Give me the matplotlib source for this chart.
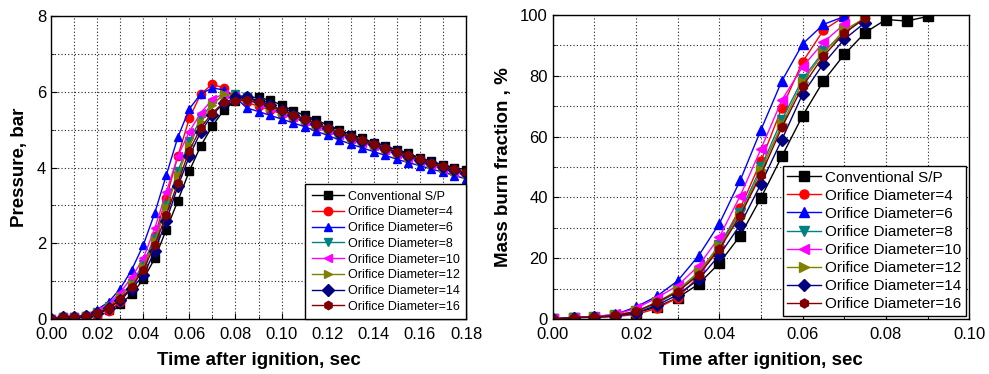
import matplotlib
matplotlib.use("Agg")
import matplotlib.pyplot as plt
from matplotlib.ticker import MultipleLocator

plt.rcParams["font.family"] = ["Liberation Sans", "DejaVu Sans"]

LABELS = ["Conventional S/P", "Orifice Diameter=4", "Orifice Diameter=6",
          "Orifice Diameter=8", "Orifice Diameter=10", "Orifice Diameter=12",
          "Orifice Diameter=14", "Orifice Diameter=16"]
COLORS = ["#000000", "#ff0000", "#0000ff", "#008080", "#ff00ff", "#808000",
          "#000080", "#800000"]
MARKERS = ["s", "o", "^", "v", "<", ">", "D", "h"]

# ---- pressure (left), t = 0 .. 0.18 step 0.005
t_p = [round(0.005 * i, 3) for i in range(37)]
p_conv = [0.0, 0.05, 0.05, 0.08, 0.15, 0.25, 0.4, 0.65, 1.05, 1.6, 2.36, 3.12, 3.91,
          4.58, 5.1, 5.52, 5.76, 5.85, 5.85, 5.78, 5.65, 5.5, 5.38, 5.26, 5.12, 5.0,
          4.87, 4.77, 4.66, 4.56, 4.47, 4.38, 4.25, 4.16, 4.07, 4.0, 3.94]
p_d4 = [0.0, 0.05, 0.05, 0.07, 0.05, 0.2, 0.45, 0.85, 1.4, 2.2, 3.2, 4.3, 5.3,
        5.95, 6.2, 6.1, 5.85, 5.72, 5.62, 5.52, 5.42, 5.32, 5.2, 5.08, 4.97, 4.86,
        4.76, 4.66, 4.56, 4.46, 4.36, 4.26, 4.16, 4.06, 3.97, 3.88, 3.8]
p_d6 = [0.0, 0.05, 0.05, 0.1, 0.25, 0.45, 0.8, 1.3, 1.95, 2.8, 3.8, 4.8, 5.55,
        5.95, 6.1, 6.05, 5.85, 5.57, 5.48, 5.38, 5.28, 5.18, 5.08, 4.96, 4.85, 4.73,
        4.62, 4.52, 4.42, 4.32, 4.22, 4.13, 4.05, 3.96, 3.88, 3.79, 3.7]
p_d8 = [0.0, 0.05, 0.05, 0.08, 0.18, 0.35, 0.6, 0.95, 1.45, 2.15, 3.0, 3.9, 4.7,
        5.3, 5.7, 5.9, 5.95, 5.85, 5.72, 5.6, 5.48, 5.37, 5.25, 5.13, 5.01, 4.9,
        4.79, 4.68, 4.58, 4.48, 4.38, 4.28, 4.18, 4.08, 3.99, 3.9, 3.82]
p_d10 = [0.0, 0.05, 0.05, 0.08, 0.2, 0.4, 0.7, 1.1, 1.6, 2.4, 3.35, 4.3, 4.95,
         5.45, 5.8, 5.95, 5.9, 5.8, 5.68, 5.56, 5.45, 5.34, 5.22, 5.1, 4.98, 4.87,
         4.76, 4.66, 4.56, 4.46, 4.36, 4.26, 4.16, 4.06, 3.97, 3.88, 3.8]
p_d12 = [0.0, 0.05, 0.05, 0.08, 0.17, 0.33, 0.58, 0.92, 1.38, 2.05, 2.95, 3.8, 4.6,
         5.2, 5.65, 5.95, 5.9, 5.82, 5.72, 5.6, 5.48, 5.37, 5.25, 5.13, 5.02, 4.9,
         4.79, 4.69, 4.59, 4.49, 4.39, 4.29, 4.19, 4.09, 4.0, 3.91, 3.83]
p_d14 = [0.0, 0.05, 0.05, 0.08, 0.15, 0.28, 0.5, 0.8, 1.15, 1.8, 2.6, 3.5, 4.3,
         4.95, 5.4, 5.7, 5.85, 5.85, 5.76, 5.65, 5.52, 5.4, 5.28, 5.16, 5.04, 4.92,
         4.81, 4.71, 4.61, 4.51, 4.41, 4.31, 4.21, 4.11, 4.02, 3.93, 3.85]
p_d16 = [0.0, 0.05, 0.05, 0.08, 0.15, 0.3, 0.52, 0.85, 1.3, 1.95, 2.75, 3.6, 4.45,
         5.05, 5.45, 5.72, 5.75, 5.78, 5.72, 5.62, 5.52, 5.4, 5.28, 5.16, 5.04, 4.93,
         4.82, 4.72, 4.62, 4.52, 4.42, 4.32, 4.22, 4.12, 4.03, 3.95, 3.87]

# ---- mass burn fraction (right)
t_m_conv = [round(0.005 * i, 3) for i in range(19)]
m_conv = [0.0, 0.5, 0.5, 1.0, 2.0, 4.0, 7.0, 11.5, 18.4, 27.4, 39.9, 53.5, 66.9,
          78.3, 87.0, 94.2, 98.5, 98.0, 99.5]
t_m_short = [round(0.005 * i, 3) for i in range(15)]
t_m_long = [round(0.005 * i, 3) for i in range(16)]
m_d4 = [0.0, 0.5, 0.6, 0.8, 1.5, 3.5, 7.0, 14.0, 24.0, 36.4, 52.0, 69.4, 84.6,
        95.0, 99.5]
m_d6 = [0.0, 0.5, 0.8, 1.5, 4.0, 7.5, 12.6, 20.8, 31.4, 45.6, 62.3, 78.3, 90.5,
        96.9, 99.5]
m_d8 = [0.0, 0.5, 0.7, 1.2, 2.5, 5.0, 9.0, 15.0, 24.5, 35.0, 50.0, 65.5, 79.0,
        88.0, 94.0, 99.0]
m_d10 = [0.0, 0.5, 0.8, 1.5, 3.5, 7.0, 11.0, 17.5, 27.0, 40.5, 56.0, 72.0, 83.0,
         91.0, 97.0]
m_d12 = [0.0, 0.5, 0.7, 1.2, 2.5, 5.5, 9.5, 15.5, 24.0, 34.0, 49.0, 64.0, 78.0,
         87.5, 95.0, 99.0]
m_d14 = [0.0, 0.5, 0.6, 1.0, 2.0, 4.5, 8.0, 13.0, 21.0, 31.0, 44.5, 59.0, 74.0,
         84.0, 92.0, 97.5]
m_d16 = [0.0, 0.5, 0.7, 1.2, 2.5, 5.5, 9.0, 14.5, 23.0, 34.0, 47.5, 63.0, 76.5,
         86.5, 94.0, 99.0]

pressure = [p_conv, p_d4, p_d6, p_d8, p_d10, p_d12, p_d14, p_d16]
burn = [(t_m_conv, m_conv), (t_m_short, m_d4), (t_m_short, m_d6), (t_m_long, m_d8),
        (t_m_short, m_d10), (t_m_long, m_d12), (t_m_long, m_d14), (t_m_long, m_d16)]


def style_axes(ax, xmax, ymax, ymajor, yminor):
    ax.set_xlim(0, xmax)
    ax.set_ylim(0, ymax)
    ax.xaxis.set_major_locator(MultipleLocator(0.02))
    ax.xaxis.set_minor_locator(MultipleLocator(0.01))
    ax.yaxis.set_major_locator(MultipleLocator(ymajor))
    ax.yaxis.set_minor_locator(MultipleLocator(yminor))
    ax.xaxis.set_major_formatter(plt.FuncFormatter(lambda v, _: f"{v:.2f}"))
    ax.grid(which="both", linestyle=(0, (1, 2)), color="#222222", linewidth=0.8)
    ax.tick_params(which="both", direction="in", labelsize=12, top=False, right=False)
    ax.tick_params(which="major", length=4)
    ax.tick_params(which="minor", length=2)
    ax.tick_params(axis="x", pad=6)
    for s in ax.spines.values():
        s.set_linewidth(1.0)
    ax.set_xlabel("Time after ignition, sec", fontsize=13.5, fontweight="bold", labelpad=7)


fig = plt.figure(figsize=(9.89, 3.74), dpi=100)
ax1 = fig.add_axes([0.0516, 0.147, 0.4196, 0.810])
ax2 = fig.add_axes([0.559, 0.147, 0.421, 0.813])

for y, lab, c, m in zip(pressure, LABELS, COLORS, MARKERS):
    ax1.plot(t_p, y, color=c, marker=m, markersize=6, linewidth=1.0, label=lab)
style_axes(ax1, 0.18, 8, 2, 1)
ax1.set_ylabel("Pressure, bar", fontsize=13.5, fontweight="bold", labelpad=6)
leg1 = ax1.legend(loc="lower right", fontsize=9, labelspacing=0.3, handlelength=2.6,
                  handletextpad=0.3, borderpad=0.5, borderaxespad=0.0, fancybox=False,
                  edgecolor="black", framealpha=1)
leg1.get_frame().set_linewidth(1.0)

for (x, y), lab, c, m in zip(burn, LABELS, COLORS, MARKERS):
    ax2.plot(x, y, color=c, marker=m, markersize=6.5, linewidth=1.0, label=lab)
style_axes(ax2, 0.10, 100, 20, 10)
ax2.set_ylabel("Mass burn fraction , %", fontsize=13.5, fontweight="bold", labelpad=6)
leg2 = ax2.legend(loc="lower right", fontsize=11, labelspacing=0.27, handlelength=2.2,
                  handletextpad=0.3, borderpad=0.3, borderaxespad=0.2, fancybox=False,
                  edgecolor="black", framealpha=1)
leg2.get_frame().set_linewidth(1.0)

fig.savefig("out.png", dpi=100)
